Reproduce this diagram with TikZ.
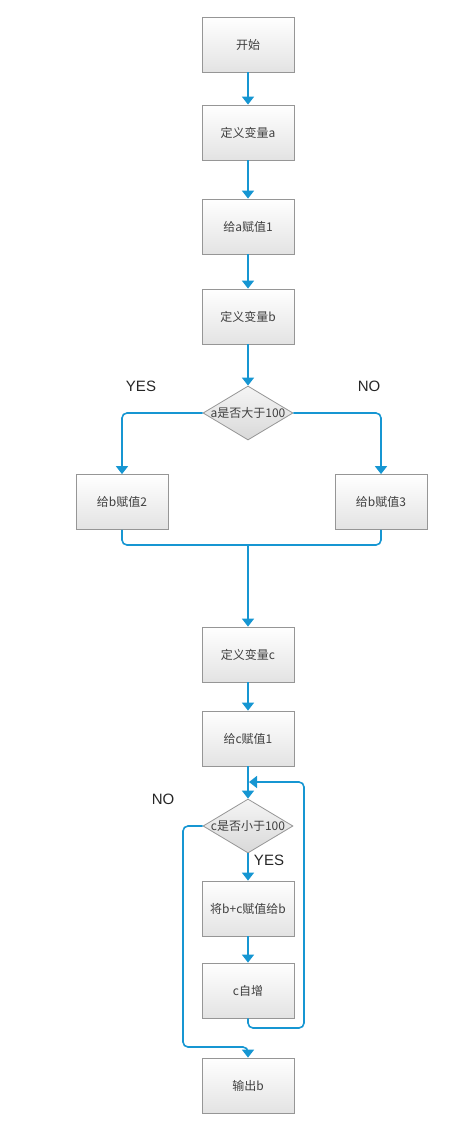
\documentclass[tikz,border=0pt]{standalone}
\usepackage{fontspec}
\newfontfamily\cjk{Noto Sans CJK SC}
\newfontfamily\lat{Liberation Sans}
\usetikzlibrary{arrows.meta,shapes.geometric}
\definecolor{flow}{RGB}{22,150,210}
\definecolor{edge}{RGB}{150,150,150}
\begin{document}
\begin{tikzpicture}[x=1pt,y=-1pt,
  stepbox/.style={draw=edge,line width=0.8pt,top color=white,bottom color=black!11,
    minimum width=92pt,minimum height=55pt,inner sep=0pt,font=\cjk\fontsize{12}{14}\selectfont,text=black!75},
  dia/.style={draw=edge,line width=0.8pt,diamond,top color=black!4,bottom color=black!15,
    minimum width=90pt,minimum height=54pt,inner sep=0pt},
  diatext/.style={font=\cjk\fontsize{12}{14}\selectfont,text=black!75},
  lab/.style={font=\lat\fontsize{15}{17}\selectfont,text=black!85},
  conn/.style={draw=flow,line width=1.6pt,rounded corners=5pt},
  arr/.style={conn,-{Triangle[width=12pt,length=8pt]}}]
\useasboundingbox (0,0) rectangle (474,1135);
\node[stepbox] (s) at (248,44.5) {开始};
\node[stepbox] (va) at (248,132.5) {定义变量a};
\node[stepbox] (aa) at (248,226.5) {给a赋值1};
\node[stepbox] (vb) at (248,316.5) {定义变量b};
\node[dia] (d1) at (248,413) {};
\node[diatext] at (d1) {a是否大于100};
\node[stepbox] (b2) at (122,502) {给b赋值2};
\node[stepbox] (b3) at (381,502) {给b赋值3};
\node[stepbox] (vc) at (248,654.5) {定义变量c};
\node[stepbox] (ac) at (248,738.5) {给c赋值1};
\node[dia] (d2) at (248,826) {};
\node[diatext] at (d2) {c是否小于100};
\node[stepbox] (sum) at (248,908.5) {将b+c赋值给b};
\node[stepbox] (inc) at (248,990.5) {c自增};
\node[stepbox] (out) at (248,1085.5) {输出b};
\node[lab] (yes1) at (141,386) {YES};
\node[lab] (no1) at (369,386) {NO};
\node[lab] (no2) at (163,799) {NO};
\node[lab] (yes2) at (269,860) {YES};
\coordinate (m) at (248,545);
\coordinate (loopin) at (249,782);
\draw[arr] (s) -- (va);
\draw[arr] (va) -- (aa);
\draw[arr] (aa) -- (vb);
\draw[arr] (vb) -- (d1);
\draw[arr] (d1.west) -| (b2.north);
\draw[arr] (d1.east) -| (b3.north);
\draw[conn] (b2.south) |- (m) -| (b3.south);
\draw[arr] (m) -- (vc);
\draw[arr] (vc) -- (ac);
\draw[arr] (ac) -- (d2);
\draw[arr] (d2) -- (sum);
\draw[arr] (sum) -- (inc);
\draw[arr] (inc.south) |- (304,1028) |- (loopin);
\draw[arr] (d2.west) -| (183,1047) -| (out.north);
\end{tikzpicture}
\end{document}
